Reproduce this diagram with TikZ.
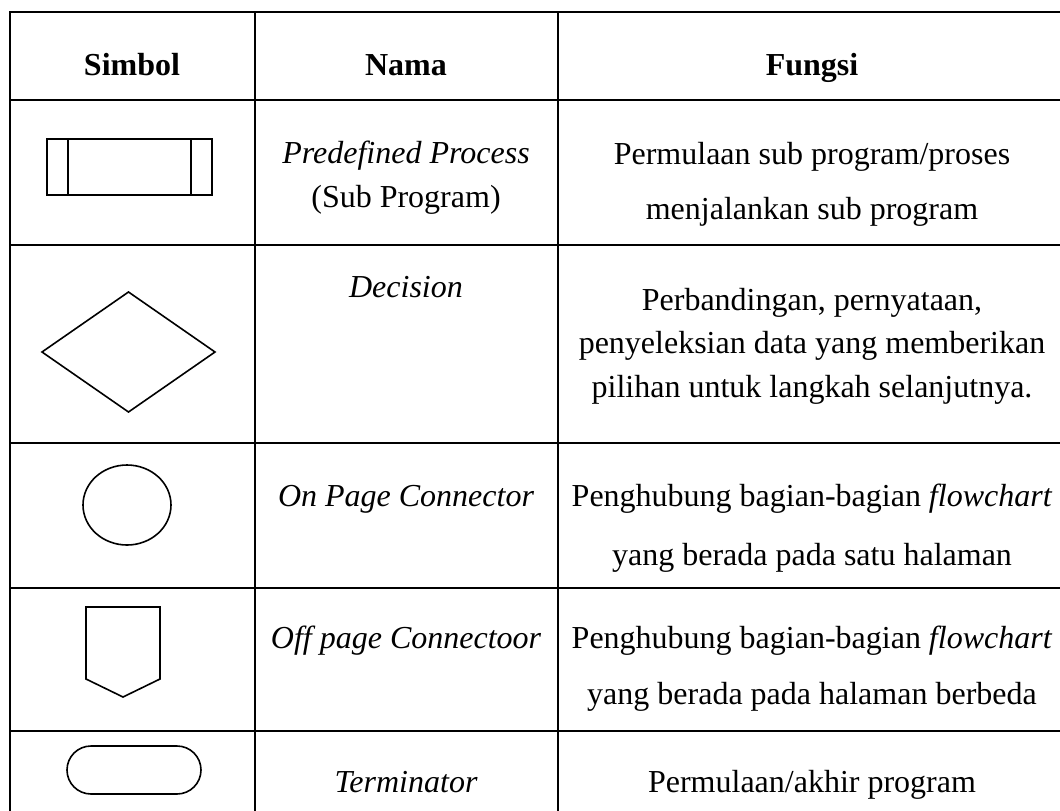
\documentclass[tikz,border=0pt]{standalone}
\usepackage{fontspec}
\setmainfont{Liberation Serif}
\begin{document}
\begin{tikzpicture}[x=1pt,y=-1pt,
  gridline/.style={line width=2.6pt, line cap=rect},
  sym/.style={line width=1.6pt, line join=miter},
  txt/.style={anchor=base, inner sep=0pt, font=\fontsize{32}{38}\selectfont},
  head/.style={txt, font=\fontsize{32}{38}\selectfont\bfseries}]
\useasboundingbox (0,0) rectangle (1060,811);
\clip (0,0) rectangle (1060,811);
% table grid
\foreach \yy in {12,100,245,443,588,731}
  \draw[gridline] (10,\yy) -- (1080,\yy);
\foreach \xx in {10,255,558,1066}
  \draw[gridline] (\xx,12) -- (\xx,830);
% header
\node[head] (h1) at (132,75) {Simbol};
\node[head] (h2) at (406,75) {Nama};
\node[head] (h3) at (812,75) {Fungsi};
% row 1
\draw[sym] (47,139) rectangle (212,195);
\draw[sym] (68,139) -- (68,195);
\draw[sym] (191,139) -- (191,195);
\node[txt] (n1a) at (406,163) {\itshape Predefined Process};
\node[txt] (n1b) at (406,207) {(Sub Program)};
\node[txt] (f1a) at (812,164) {Permulaan sub program/proses};
\node[txt] (f1b) at (812,219) {menjalankan sub program};
% row 2
\draw[sym] (42,352) -- (128.5,292) -- (215,352) -- (128.5,412) -- cycle;
\node[txt] (n2) at (406,297) {\itshape Decision};
\node[txt] (f2a) at (812,310) {Perbandingan, pernyataan,};
\node[txt] (f2b) at (812,353) {penyeleksian data yang memberikan};
\node[txt] (f2c) at (812,397) {pilihan untuk langkah selanjutnya.};
% row 3
\draw[sym] (127,505) ellipse [x radius=44, y radius=40];
\node[txt] (n3) at (406,506) {\itshape On Page Connector};
\node[txt] (f3a) at (812,506) {Penghubung bagian-bagian \textit{flowchart}};
\node[txt] (f3b) at (812,565) {yang berada pada satu halaman};
% row 4
\draw[sym] (86,607) -- (160,607) -- (160,679) -- (123,697) -- (86,679) -- cycle;
\node[txt] (n4) at (406,648) {\itshape Off page Connectoor};
\node[txt] (f4a) at (812,648) {Penghubung bagian-bagian \textit{flowchart}};
\node[txt] (f4b) at (812,704) {yang berada pada halaman berbeda};
% row 5
\draw[sym, rounded corners=24pt] (67,746) rectangle (201,794);
\node[txt] (n5) at (406,792) {\itshape Terminator};
\node[txt] (f5) at (812,792) {Permulaan/akhir program};
\end{tikzpicture}
\end{document}
